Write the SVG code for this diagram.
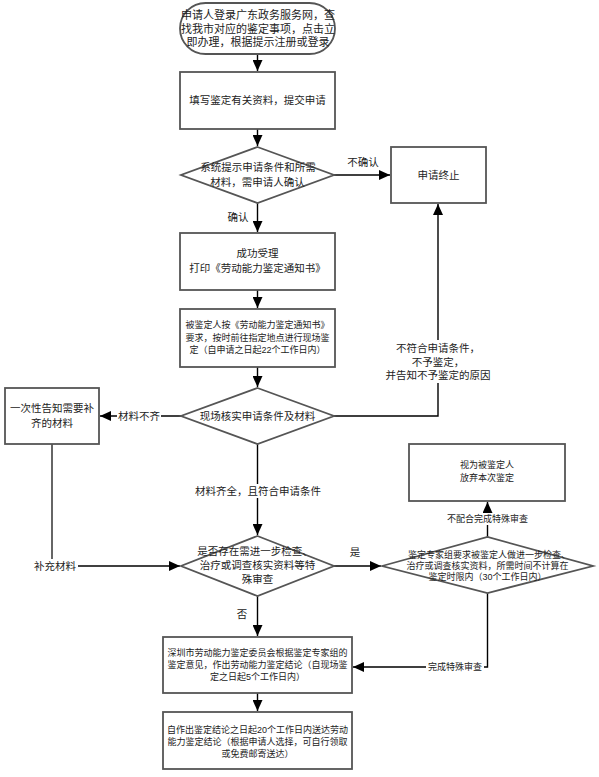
<svg xmlns="http://www.w3.org/2000/svg" width="599" height="777" viewBox="0 0 599 777">
<style>
.box{fill:#fff;stroke:#555;stroke-width:1.8}
.t{font-family:"Liberation Sans","Noto Sans CJK SC",sans-serif;fill:#222;text-anchor:middle;dominant-baseline:central}
.f11{font-size:11px}
.f105{font-size:10.5px}
.f9{font-size:9px}
.ln{fill:none;stroke:#000;stroke-width:1.4}
.gl{fill:none;stroke:#666;stroke-width:2}
.bg{fill:#fff}
</style>
<defs>
<marker id="ah" markerUnits="userSpaceOnUse" markerWidth="12" markerHeight="10" refX="11" refY="5" orient="auto">
<path d="M0,0 L11,5 L0,10 Z" fill="#000"/>
</marker>
</defs>
<rect width="599" height="777" fill="#fff"/>
<g id="connectors">
<path class="ln" d="M257.5,54 V71" marker-end="url(#ah)"/>
<path class="ln" d="M257.5,129 V146" marker-end="url(#ah)"/>
<path class="ln" d="M334,175 H390" marker-end="url(#ah)"/>
<path class="ln" d="M257.5,203 V232" marker-end="url(#ah)"/>
<path class="ln" d="M257.5,290 V308" marker-end="url(#ah)"/>
<path class="ln" d="M257.5,367 V387" marker-end="url(#ah)"/>
<path class="ln" d="M334,416 H438 V204" marker-end="url(#ah)"/>
<path class="ln" d="M181,416 H100" marker-end="url(#ah)"/>
<path class="gl" d="M52,444 V566"/>
<path class="ln" d="M52,566 H180" marker-end="url(#ah)"/>
<path class="ln" d="M257.5,444 V535" marker-end="url(#ah)"/>
<path class="ln" d="M334,566 H381" marker-end="url(#ah)"/>
<path class="ln" d="M487.5,537 V502" marker-end="url(#ah)"/>
<path class="ln" d="M487.5,593 V667 H353" marker-end="url(#ah)"/>
<path class="ln" d="M257.5,596 V636" marker-end="url(#ah)"/>
<path class="ln" d="M257.5,693 V711" marker-end="url(#ah)"/>
<rect class="bg" x="386" y="340" width="106" height="43"/>
<text class="t f105" x="438" y="348">不符合申请条件，</text>
<text class="t f105" x="438" y="362">不予鉴定，</text>
<text class="t f105" x="438" y="375">并告知不予鉴定的原因</text>
<text class="t f105" x="363" y="162">不确认</text>
<text class="t f105" x="238" y="217">确认</text>
<rect class="bg" x="117" y="410" width="44" height="13"/>
<text class="t f105" x="139" y="416">材料不齐</text>
<rect class="bg" x="33" y="559" width="45" height="14"/>
<text class="t f105" x="55" y="566">补充材料</text>
<rect class="bg" x="194" y="484" width="128" height="14"/>
<text class="t f105" x="258" y="491">材料齐全，且符合申请条件</text>
<text class="t f105" x="355" y="552">是</text>
<text class="t f105" x="242" y="614">否</text>
<rect class="bg" x="445" y="513" width="85" height="12"/>
<text class="t f9" x="487.5" y="519">不配合完成特殊审查</text>
<rect class="bg" x="426" y="661" width="58" height="12"/>
<text class="t f9" x="455" y="667">完成特殊审查</text>
</g>
<g id="n-start">
<rect class="box" x="180" y="3" width="155" height="51" rx="25.5"/>
<text class="t f11" x="258" y="15">申请人登录广东政务服务网，查</text>
<text class="t f11" x="258" y="28.5">找我市对应的鉴定事项，点击立</text>
<text class="t f11" x="258" y="42">即办理，根据提示注册或登录</text>
</g>
<g id="n-fill">
<rect class="box" x="180" y="72" width="155" height="57"/>
<text class="t f105" x="257.5" y="100">填写鉴定有关资料，提交申请</text>
</g>
<g id="n-confirm">
<polygon class="box" points="257.5,147 334,175 257.5,203 181,175"/>
<text class="t f105" x="258" y="167">系统提示申请条件和所需</text>
<text class="t f105" x="257.5" y="182">材料，需申请人确认</text>
</g>
<g id="n-terminate">
<rect class="box" x="391" y="147" width="95" height="56"/>
<text class="t f105" x="438.5" y="175">申请终止</text>
</g>
<g id="n-accept">
<rect class="box" x="180" y="233" width="155" height="57"/>
<text class="t f105" x="257.5" y="253">成功受理</text>
<text class="t f105" x="257.5" y="268">打印《劳动能力鉴定通知书》</text>
</g>
<g id="n-onsite">
<rect class="box" x="180" y="309" width="155" height="58"/>
<text class="t f9" x="257.5" y="325">被鉴定人按《劳动能力鉴定通知书》</text>
<text class="t f9" x="257.5" y="338">要求，按时前往指定地点进行现场鉴</text>
<text class="t f9" x="257.5" y="350">定（自申请之日起22个工作日内）</text>
</g>
<g id="n-verify">
<polygon class="box" points="257.5,388 334,416 257.5,444 181,416"/>
<text class="t f105" x="257.5" y="416">现场核实申请条件及材料</text>
</g>
<g id="n-notify">
<rect class="box" x="5" y="388" width="94" height="56"/>
<text class="t f105" x="52" y="408">一次性告知需要补</text>
<text class="t f105" x="52" y="423">齐的材料</text>
</g>
<g id="n-special">
<polygon class="box" points="257.5,536 334,566 257.5,596 181,566"/>
<text class="t f105" x="255" y="551">是否存在需进一步检查、</text>
<text class="t f105" x="257.5" y="565">治疗或调查核实资料等特</text>
<text class="t f105" x="257.5" y="579">殊审查</text>
</g>
<g id="n-expert">
<polygon class="box" points="382,566 487.5,537 593,566 487.5,593"/>
<text class="t f9" x="489" y="555">鉴定专家组要求被鉴定人做进一步检查、</text>
<text class="t f9" x="487.5" y="566">治疗或调查核实资料，所需时间不计算在</text>
<text class="t f9" x="487.5" y="577">鉴定时限内（30个工作日内）</text>
</g>
<g id="n-abandon">
<rect class="box" x="409" y="444" width="156" height="57"/>
<text class="t f9" x="487" y="465">视为被鉴定人</text>
<text class="t f9" x="487" y="478">放弃本次鉴定</text>
</g>
<g id="n-conclusion">
<rect class="box" x="163" y="637" width="189" height="56"/>
<text class="t f9" x="257.5" y="653">深圳市劳动能力鉴定委员会根据鉴定专家组的</text>
<text class="t f9" x="257.5" y="665">鉴定意见，作出劳动能力鉴定结论（自现场鉴</text>
<text class="t f9" x="257.5" y="677">定之日起5个工作日内）</text>
</g>
<g id="n-deliver">
<rect class="box" x="163" y="712" width="189" height="57"/>
<text class="t f9" x="257.5" y="730">自作出鉴定结论之日起20个工作日内送达劳动</text>
<text class="t f9" x="257.5" y="742">能力鉴定结论（根据申请人选择，可自行领取</text>
<text class="t f9" x="257.5" y="754">或免费邮寄送达）</text>
</g>
</svg>
